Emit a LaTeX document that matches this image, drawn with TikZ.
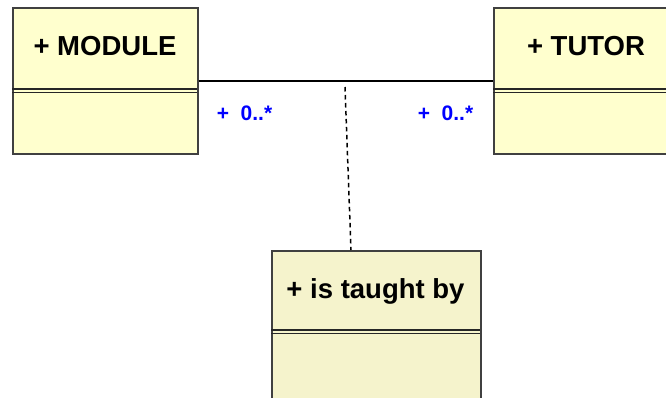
\documentclass[tikz,border=0pt]{standalone}
\usepackage{fontspec}
\setmainfont{Liberation Sans}
\begin{document}
\begin{tikzpicture}[x=1pt,y=-1pt,
  classbox/.style={draw=black!75, line width=1.7pt, inner sep=0pt, anchor=north west},
  titletext/.style={font=\bfseries\fontsize{27.5}{32}\selectfont, text=black, anchor=base, inner sep=0pt},
  multtext/.style={font=\bfseries\fontsize{21}{26}\selectfont, text=blue, anchor=base, inner sep=0pt},
  sepline/.style={draw=black!85, line width=1.5pt},
  assoc/.style={draw=black, line width=1.6pt},
  assocdash/.style={draw=black, line width=1.5pt, dash pattern=on 4.5pt off 3.5pt}]
\definecolor{classfill}{RGB}{255,255,206}
\definecolor{assocfill}{RGB}{245,243,204}
\clip (0,0) rectangle (666,397);
\fill[white] (0,0) rectangle (666,397);
% class boxes
\node[classbox, fill=classfill, minimum width=185pt, minimum height=146pt] (module) at (12,7) {};
\node[classbox, fill=classfill, minimum width=185pt, minimum height=146pt] (tutor) at (493,7) {};
\node[classbox, fill=assocfill, minimum width=209pt, minimum height=160pt] (taught) at (271,250) {};
% titles
\node[titletext] (moduletitle) at (105,55) {+ MODULE};
\node[titletext] (tutortitle) at (586,55) {+ TUTOR};
\node[titletext] (taughttitle) at (375.5,298) {+ is taught by};
% compartment separators (double lines)
\draw[sepline] (12,89) -- (197,89);
\draw[sepline] (12,92.5) -- (197,92.5);
\draw[sepline] (493,89) -- (680,89);
\draw[sepline] (493,92.5) -- (680,92.5);
\draw[sepline] (271,330) -- (480,330);
\draw[sepline] (271,333.5) -- (480,333.5);
% association
\draw[assoc] (module.east) -- (tutor.west);
\coordinate (assocmid) at (345,87);
\coordinate (assocend) at (351,250);
\draw[assocdash] (assocmid) -- (assocend);
% multiplicities
\node[multtext] (multleft) at (244.5,120) {+\ \ 0..*};
\node[multtext] (multright) at (445.5,120) {+\ \ 0..*};
\end{tikzpicture}
\end{document}
